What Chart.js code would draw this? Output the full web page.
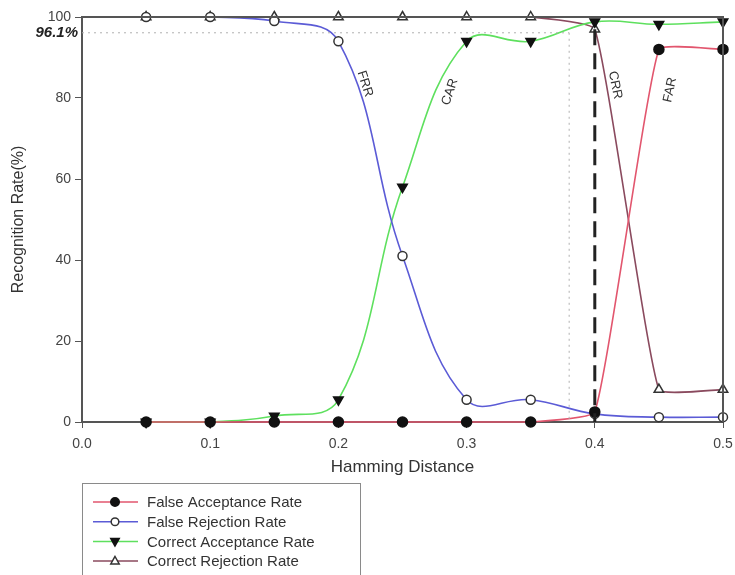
<!DOCTYPE html>
<html>
<head>
<meta charset="utf-8">
<script src="https://cdn.jsdelivr.net/npm/chart.js@4.4.1/dist/chart.umd.min.js"></script>
<style>
  html, body { margin: 0; padding: 0; background: #fff; }
  #wrap { width: 735px; height: 575px; }
</style>
</head>
<body>
<div id="wrap"><canvas id="chart" width="735" height="575"></canvas></div>
<script>
// Hamming distance (x) and rates in % (y)
const distances = [0.05, 0.1, 0.15, 0.2, 0.25, 0.3, 0.35, 0.4, 0.45, 0.5];
const farValues = [0, 0, 0, 0, 0, 0, 0, 2.5, 92, 92];
const frrValues = [100, 100, 99, 94, 41, 5.5, 5.5, 2, 1.2, 1.2];
const carValues = [0, 0, 1.5, 5.5, 58, 94, 94, 98.8, 98.2, 98.8];
const crrValues = [100, 100, 100, 100, 100, 100, 100, 97, 8, 8];

const seriesNames = ['False Acceptance Rate', 'False Rejection Rate', 'Correct Acceptance Rate', 'Correct Rejection Rate'];
const curveTags = ['FAR', 'FRR', 'CAR', 'CRR'];

const eerDistance = 0.4;
const thresholdDistance = 0.38;
const thresholdRate = 96.1;

const FONT = '"Liberation Sans", Arial, sans-serif';

const toPoints = (vals) => vals.map((v, i) => ({ x: distances[i], y: v }));

// series styles
const styles = [
  { line: '#e2566e', marker: 'circle', fill: '#111', stroke: '#111', rot: 0, r: 5, tension: 0.12 },
  { line: '#5b5bd6', marker: 'circle', fill: '#fff', stroke: '#333', rot: 0, r: 4.5, tension: 0.4 },
  { line: '#5ee05e', marker: 'triangle', fill: '#111', stroke: '#111', rot: 180, r: 5.5, tension: 0.4 },
  { line: '#8a4a5e', marker: 'triangle', fill: '#fff', stroke: '#333', rot: 0, r: 5.5, tension: 0.12 }
];
const seriesValues = [farValues, frrValues, carValues, crrValues];

function drawMarker(ctx, st, x, y) {
  ctx.save();
  ctx.fillStyle = st.fill;
  ctx.strokeStyle = st.stroke;
  ctx.lineWidth = 1.5;
  ctx.beginPath();
  if (st.marker === 'circle') {
    ctx.arc(x, y, st.r, 0, Math.PI * 2);
  } else {
    const r = st.r, s = st.rot ? -1 : 1;
    ctx.moveTo(x, y - s * r);
    ctx.lineTo(x - r * 0.9, y + s * r * 0.6);
    ctx.lineTo(x + r * 0.9, y + s * r * 0.6);
    ctx.closePath();
  }
  ctx.fill();
  ctx.stroke();
  ctx.restore();
}

const extras = {
  id: 'extras',
  afterDatasetsDraw(chart) {
    const { ctx, chartArea: a, scales: { x, y } } = chart;
    ctx.save();

    // threshold guide lines (dotted)
    const tx = x.getPixelForValue(thresholdDistance);
    const ty = y.getPixelForValue(thresholdRate);
    ctx.strokeStyle = '#b0b0b0';
    ctx.lineWidth = 1;
    ctx.setLineDash([2, 4]);
    ctx.beginPath();
    ctx.moveTo(a.left, ty); ctx.lineTo(tx, ty);
    ctx.moveTo(tx, ty); ctx.lineTo(tx, a.bottom);
    ctx.stroke();

    // EER dashed line
    const ex = x.getPixelForValue(eerDistance);
    ctx.strokeStyle = '#222';
    ctx.lineWidth = 3;
    ctx.setLineDash([16, 8]);
    ctx.beginPath();
    ctx.moveTo(ex, y.getPixelForValue(97)); ctx.lineTo(ex, a.bottom);
    ctx.stroke();
    ctx.setLineDash([]);

    // frame top and right
    ctx.strokeStyle = '#555';
    ctx.lineWidth = 2;
    ctx.beginPath();
    ctx.moveTo(a.left, a.top); ctx.lineTo(a.right, a.top); ctx.lineTo(a.right, a.bottom);
    ctx.stroke();

    // 96.1% label
    ctx.fillStyle = '#222';
    ctx.font = 'italic bold 15px ' + FONT;
    ctx.textAlign = 'right';
    ctx.textBaseline = 'middle';
    ctx.fillText(thresholdRate + '%', a.left - 4, ty);

    // rotated curve labels
    const tags = [
      { t: 'FRR', x: 0.2207, y: 83.5, rot: 72 },
      { t: 'CAR', x: 0.287, y: 81.5, rot: -72 },
      { t: 'CRR', x: 0.4158, y: 83.2, rot: 78 },
      { t: 'FAR', x: 0.4587, y: 82, rot: -78 }
    ];
    ctx.font = '13px ' + FONT;
    ctx.fillStyle = '#333';
    ctx.textAlign = 'center';
    tags.forEach(tg => {
      ctx.save();
      ctx.translate(x.getPixelForValue(tg.x), y.getPixelForValue(tg.y));
      ctx.rotate(tg.rot * Math.PI / 180);
      ctx.fillText(tg.t, 0, 0);
      ctx.restore();
    });

    // legend box
    ctx.strokeStyle = '#8a8a8a';
    ctx.lineWidth = 1;
    ctx.strokeRect(82.5, 483.5, 278, 120);
    ctx.font = '15px ' + FONT;
    ctx.textAlign = 'left';
    ctx.fillStyle = '#333';
    seriesNames.forEach((name, i) => {
      const ly = 502 + i * 19.7;
      const st = styles[i];
      ctx.strokeStyle = st.line;
      ctx.lineWidth = 1.5;
      ctx.beginPath();
      ctx.moveTo(93, ly); ctx.lineTo(138, ly);
      ctx.stroke();
      drawMarker(ctx, Object.assign({}, st, { r: st.r * 0.85 }), 115, ly);
      ctx.fillStyle = '#333';
      ctx.fillText(name, 147, ly + 1);
    });
    ctx.restore();
  }
};

new Chart(document.getElementById('chart'), {
  type: 'line',
  data: {
    datasets: seriesValues.map((vals, i) => ({
      label: seriesNames[i],
      data: toPoints(vals),
      borderColor: styles[i].line,
      borderWidth: 1.6,
      tension: styles[i].tension,
      fill: false,
      clip: false,
      pointStyle: styles[i].marker,
      pointRotation: styles[i].rot,
      pointRadius: styles[i].r,
      pointBackgroundColor: styles[i].fill,
      pointBorderColor: styles[i].stroke,
      pointBorderWidth: 1.5
    }))
  },
  options: {
    responsive: false,
    animation: false,
    devicePixelRatio: 1,
    layout: { padding: { left: 0, top: 17, right: 12, bottom: 93 } },
    plugins: { legend: { display: false }, tooltip: { enabled: false } },
    scales: {
      x: {
        type: 'linear',
        min: 0, max: 0.5,
        afterFit: s => { s.height = 60; s.paddingRight = 0; s.paddingLeft = 0; },
        border: { display: true, color: '#555', width: 2 },
        grid: { drawOnChartArea: false, drawTicks: true, tickLength: 6, color: '#555' },
        ticks: {
          stepSize: 0.1, padding: 8, color: '#444',
          font: { family: FONT, size: 14 },
          callback: v => Number(v).toFixed(1)
        },
        title: { display: true, text: 'Hamming Distance', color: '#333', font: { family: FONT, size: 17 }, padding: { top: 0 } }
      },
      y: {
        min: 0, max: 100,
        afterFit: s => { s.width = 82; },
        border: { display: true, color: '#555', width: 2 },
        grid: { drawOnChartArea: false, drawTicks: true, tickLength: 7, color: '#555' },
        ticks: { stepSize: 20, padding: 4, color: '#444', font: { family: FONT, size: 14 } },
        title: { display: true, text: 'Recognition Rate(%)', color: '#333', font: { family: FONT, size: 16 }, padding: { top: 9, bottom: 0 } }
      }
    }
  },
  plugins: [extras]
});
</script>
</body>
</html>
